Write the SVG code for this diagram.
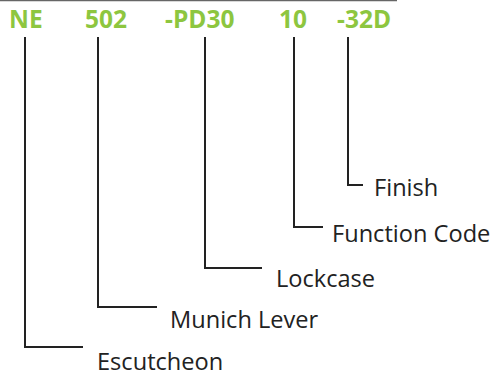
<svg xmlns="http://www.w3.org/2000/svg" width="494" height="376" viewBox="0 0 494 376">
<style>
.code{font-family:"Open Sans","Noto Sans",sans-serif;font-weight:bold;font-size:24.5px;fill:#8dc63f}
.lbl{font-family:"Open Sans","Noto Sans",sans-serif;font-size:23.6px;fill:#222}
.ln{fill:none;stroke:#222;stroke-width:2}
</style>
<rect width="494" height="376" fill="#fff"/>
<line x1="0" y1="0.5" x2="397" y2="0.5" stroke="#666" stroke-width="1.5"/>
<g id="codes">
<text class="code" x="9" y="28">NE</text>
<text class="code" x="85" y="28">502</text>
<text class="code" x="165" y="28">-PD30</text>
<text class="code" x="279" y="28">10</text>
<text class="code" x="337" y="28">-32D</text>
</g>
<g id="connectors">
<polyline class="ln" points="348,37 348,185 363,185"/>
<polyline class="ln" points="294,37 294,227 323,227"/>
<polyline class="ln" points="205,37 205,268 262,268"/>
<polyline class="ln" points="98,37 98,307 157,307"/>
<polyline class="ln" points="25,37 25,347 83,347"/>
</g>
<g id="finish"><text class="lbl" x="374" y="196">Finish</text></g>
<g id="function-code"><text class="lbl" x="332" y="242">Function Code</text></g>
<g id="lockcase"><text class="lbl" x="276" y="287">Lockcase</text></g>
<g id="munich-lever"><text class="lbl" x="170" y="328">Munich Lever</text></g>
<g id="escutcheon"><text class="lbl" x="97" y="370">Escutcheon</text></g>
</svg>
